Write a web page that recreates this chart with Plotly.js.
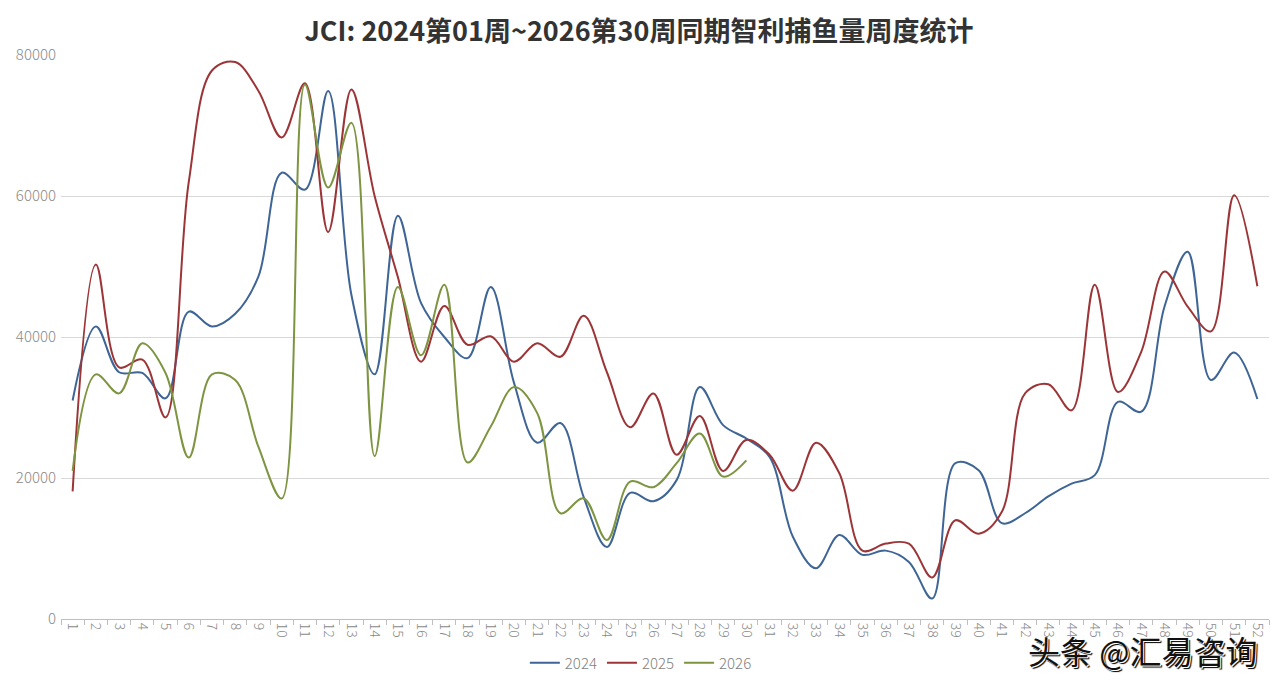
<!DOCTYPE html>
<html>
<head>
<meta charset="utf-8">
<script src="https://cdn.plot.ly/plotly-3.0.1.min.js"></script>
<style>
html,body{margin:0;padding:0;background:#fff;}
#chart{width:1278px;height:689px;}
</style>
</head>
<body>
<div id="chart"></div>
<script>
var weeks = ["1","2","3","4","5","6","7","8","9","10","11","12","13","14","15","16","17","18","19","20","21","22","23","24","25","26","27","28","29","30","31","32","33","34","35","36","37","38","39","40","41","42","43","44","45","46","47","48","49","50","51","52"];

var y2024 = [31000,41500,35000,34900,31300,43600,41500,43300,48600,63300,60900,74900,46000,34700,57200,44800,40000,37000,47100,33500,25000,27800,17300,10200,17900,16700,19700,32900,27500,25600,23000,11700,7200,11900,9100,9700,8100,2900,22100,21100,13600,15000,17400,19200,20400,30800,29400,44300,52100,33900,37800,31200];

var y2025 = [18100,50300,35700,36800,28600,62000,77800,79000,74900,68300,76000,54900,75100,60000,48500,36500,44400,38900,40100,36500,39100,37200,43000,35000,27200,32000,23300,28800,21000,25400,23300,18200,25000,20700,9700,10700,10700,5900,14000,12100,15200,32000,33300,29600,47400,32200,37900,49300,44300,40800,60100,47200];

var y2026 = [21000,34700,32000,39100,34900,22900,34700,33900,24400,17100,75800,61200,70400,23100,47100,37400,47400,22200,27300,32900,29200,15000,17100,11200,19500,18700,22100,26300,20200,22500];

var seriesNames = ["2024","2025","2026"];
var seriesColors = ["#3e6595","#9c3537","#7d9441"];
var seriesData = [y2024, y2025, y2026];

var titleText = "JCI: 2024第01周~2026第30周同期智利捕鱼量周度统计";
var watermarkText = "头条 @汇易咨询";
var yTicks = [0,20000,40000,60000,80000];

var traces = seriesData.map(function(d,i){
  return {
    type:"scatter",
    mode:"lines",
    name:seriesNames[i],
    x:weeks.slice(0,d.length),
    y:d,
    line:{color:seriesColors[i], width:2, shape:"spline", smoothing:1},
    hoverinfo:"x+y+name"
  };
});

var tickFont = {family:"Noto Sans CJK SC, Noto Sans, sans-serif", size:14, color:"#8a8a8a", weight:300};

var layout = {
  width:1278, height:689,
  paper_bgcolor:"#ffffff", plot_bgcolor:"#ffffff",
  margin:{l:61, r:9, t:55, b:70, pad:0},
  title:{
    text:"<b>"+titleText+"</b>",
    font:{family:"Noto Sans CJK SC, sans-serif", size:27, color:"#333333"},
    xref:"container", x:0.5, xanchor:"center",
    yref:"container", y:1-32/689, yanchor:"middle"
  },
  xaxis:{
    type:"category",
    categoryorder:"array",
    categoryarray:weeks,
    range:[-0.5, weeks.length-0.5],
    tickson:"boundaries",
    ticks:"outside", ticklen:5, tickcolor:"#bfbfbf", tickwidth:1,
    showline:true, linecolor:"#bfbfbf", linewidth:1,
    showgrid:false, zeroline:false,
    tickangle:90,
    tickfont:tickFont,
    fixedrange:true
  },
  yaxis:{
    range:[0,80000],
    tickvals:yTicks,
    ticktext:yTicks.map(String),
    showgrid:true, gridcolor:"#d9d9d9", gridwidth:1,
    zeroline:false, showline:false,
    ticks:"", ticklabelstandoff:4,
    tickfont:{family:"Noto Sans CJK SC, Noto Sans, sans-serif", size:15, color:"#8a8a8a", weight:300},
    fixedrange:true
  },
  showlegend:true,
  legend:{
    orientation:"h",
    xref:"paper", x:0.48, xanchor:"center",
    yref:"container", y:(689-663)/689, yanchor:"middle",
    font:{family:"Noto Sans CJK SC, Noto Sans, sans-serif", size:15, color:"#7f7f7f", weight:300},
    itemwidth:30,
    bgcolor:"rgba(0,0,0,0)"
  },
  annotations:[{
    text:watermarkText,
    xref:"paper", yref:"paper",
    x:(1259-61)/1208, xanchor:"right", y:(619-650)/564, yanchor:"middle",
    showarrow:false,
    font:{family:"Noto Sans CJK SC, sans-serif", size:32, color:"#111111", shadow:"1px 1px 0px #ffffff, 2px 2px 1px #000000"}
  }]
};

Plotly.newPlot("chart", traces, layout, {displayModeBar:false, staticPlot:true});
</script>
</body>
</html>
